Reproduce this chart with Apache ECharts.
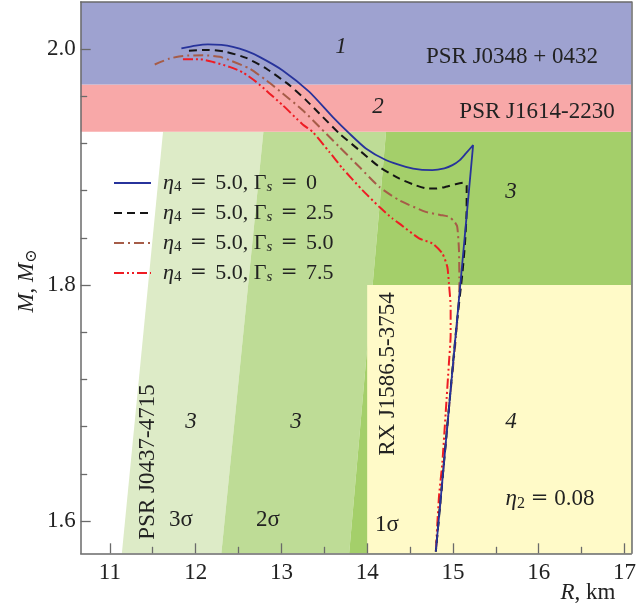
<!DOCTYPE html>
<html><head><meta charset="utf-8">
<script src="https://cdn.jsdelivr.net/npm/echarts@6/dist/echarts.min.js"></script>
<style>html,body{margin:0;padding:0;background:#fff}#c{width:639px;height:606px}</style>
</head><body><div id="c"></div>
<script>
// ---------- data ----------
const xMin = 10.66, xMax = 17.08, yMin = 1.5726, yMax = 2.04;
const xTickValues = [11, 12, 13, 14, 15, 16, 17];
const xMinorTickValues = [11.5, 12.5, 13.5, 14.5, 15.5, 16.5];
const yTickValues = [1.6, 1.8, 2.0];
const yMinorTickValues = [1.64, 1.68, 1.72, 1.76, 1.84, 1.88, 1.92, 1.96];

const eta4 = '5.0';
const gammaS = ['0', '2.5', '5.0', '7.5'];

const curveG0 = [[11.834,2.0006],[12.0,2.0030],[12.143,2.004],[12.30,2.0036],[12.434,2.002],[12.59,1.9985],[12.744,1.9935],[13.015,1.982],[13.326,1.9638],[13.597,1.9426],[13.791,1.9286],[13.985,1.9158],[14.217,1.906],[14.45,1.9003],[14.62,1.8978],[14.76,1.8975],[14.90,1.8990],[14.994,1.9017],[15.08,1.9060],[15.15,1.9116],[15.235,1.9186],[15.136,1.84],[15.037,1.762],[14.946,1.69],[14.871,1.63],[14.80,1.574]];
const curveG25 = [[11.922,1.9986],[12.143,1.9994],[12.357,1.9977],[12.59,1.9926],[12.822,1.9836],[13.093,1.9695],[13.287,1.9568],[13.442,1.9455],[13.674,1.9286],[13.907,1.9144],[14.14,1.9003],[14.372,1.8904],[14.55,1.8850],[14.683,1.882],[14.80,1.8818],[14.915,1.8833],[15.03,1.8855],[15.128,1.8868],[15.16,1.8845],[15.158,1.86],[15.14,1.835],[15.11,1.81],[15.037,1.762],[14.946,1.69],[14.871,1.63],[14.80,1.574]];
const curveG50 = [[11.523,1.987],[11.698,1.9921],[11.852,1.9943],[12.085,1.9949],[12.279,1.9935],[12.395,1.9907],[12.628,1.9836],[12.822,1.9737],[13.015,1.9625],[13.248,1.9483],[13.442,1.9342],[13.674,1.9172],[13.907,1.9003],[14.14,1.8833],[14.372,1.872],[14.683,1.8621],[14.85,1.8595],[14.953,1.8579],[15.02,1.8535],[15.05,1.8494],[15.07,1.8297],[15.075,1.7986],[15.06,1.7788],[15.037,1.757],[14.946,1.69],[14.871,1.63],[14.80,1.574]];
const curveG75 = [[11.852,1.9915],[12.047,1.9915],[12.201,1.9892],[12.395,1.985],[12.55,1.9803],[12.706,1.9723],[12.86,1.9625],[13.015,1.9525],[13.248,1.9362],[13.364,1.9299],[13.558,1.913],[13.713,1.8989],[13.945,1.8805],[14.14,1.8664],[14.294,1.8565],[14.372,1.8523],[14.605,1.8396],[14.76,1.8353],[14.876,1.8269],[14.934,1.8155],[14.953,1.8014],[14.973,1.7816],[14.973,1.7576],[14.953,1.7339],[14.915,1.6915],[14.876,1.6492],[14.837,1.6206],[14.80,1.574]];

// observational constraint regions
const bandJ0348 = [1.97, yMax];
const bandJ1614 = [1.93, 1.97];
const sigmaBandY = [yMin, 1.93];
const sigma3LeftX = [11.14, 11.62];
const sigma32X = [12.30, 12.79];
const sigma21X = [13.79, 14.22];
const rxRegionX = [14.0, xMax];
const rxRegionY = [yMin, 1.8];

// ---------- styles ----------
const SERIF = "'Liberation Serif', 'DejaVu Serif', serif";
const TXT = '#222';
const colLight = '#ddebc7', colMid = '#bedc96', colDark = '#a4cf6a', colYellow = '#fffac8', colPink = '#f8a8a8', colBlue = '#9ea2d0';

function rect(x, y) { return [[x[0], y[0]], [x[1], y[0]], [x[1], y[1]], [x[0], y[1]]]; }
const regions = [
  { pts: [[sigma3LeftX[0], sigmaBandY[0]], [sigma3LeftX[1], sigmaBandY[1]], [sigma32X[1], sigmaBandY[1]], [sigma32X[0], sigmaBandY[0]]], color: colLight },
  { pts: [[sigma32X[0], sigmaBandY[0]], [sigma32X[1], sigmaBandY[1]], [sigma21X[1], sigmaBandY[1]], [sigma21X[0], sigmaBandY[0]]], color: colMid },
  { pts: [[sigma21X[0], sigmaBandY[0]], [sigma21X[1], sigmaBandY[1]], [xMax, sigmaBandY[1]], [xMax, sigmaBandY[0]]], color: colDark },
  { pts: rect(rxRegionX, rxRegionY), color: colYellow },
  { pts: rect([xMin, xMax], bandJ1614), color: colPink },
  { pts: rect([xMin, xMax], bandJ0348), color: colBlue }
];

const curves = [curveG0, curveG25, curveG50, curveG75];
const curveStyles = [
  { color: '#27339b', width: 1.8, type: 'solid' },
  { color: '#151515', width: 2, type: [8, 5] },
  { color: '#a65c48', width: 2, type: [10, 4, 2, 4] },
  { color: '#ee1c24', width: 2, type: [10, 3, 2, 3, 2, 3] }
];
const names = gammaS.map(g => 'η4 = ' + eta4 + ', Γs = ' + g);

const rich = {
  i: { fontStyle: 'italic', fontFamily: SERIF, fontSize: 23, color: TXT },
  sub: { fontFamily: SERIF, fontSize: 16, color: TXT, padding: [10, 0, 0, 0] },
  isub: { fontFamily: SERIF, fontStyle: 'italic', fontSize: 16, color: TXT, padding: [10, 0, 0, 0] },
  eq: { fontFamily: "'DejaVu Serif', serif", fontSize: 21, color: TXT }
};
const legRich = {
  gap: { width: 7, lineHeight: 26 },
  i: { fontStyle: 'italic', fontFamily: SERIF, fontSize: 22, color: TXT, lineHeight: 26 },
  n: { fontFamily: SERIF, fontSize: 22, color: TXT, lineHeight: 26 },
  sub: { fontFamily: SERIF, fontSize: 15, color: TXT, padding: [9, 0, 0, 0], lineHeight: 26 },
  isub: { fontFamily: SERIF, fontStyle: 'italic', fontSize: 15, color: TXT, padding: [9, 0, 0, 0], lineHeight: 26 },
  eq: { fontFamily: "'DejaVu Serif', serif", fontSize: 20, color: TXT, lineHeight: 26, padding: [0, 3, 0, 3] }
};

const annotations = [
  { t: '{i|1}', x: 341, y: 47 },
  { t: 'PSR J0348 + 0432', x: 512, y: 57 },
  { t: '{i|2}', x: 378, y: 107 },
  { t: 'PSR J1614-2230', x: 537, y: 112 },
  { t: '{i|3}', x: 511, y: 192 },
  { t: '{i|3}', x: 191, y: 422 },
  { t: '{i|3}', x: 296, y: 422 },
  { t: '{i|4}', x: 511, y: 422 },
  { t: '{i|η}{sub|2} {eq|=} 0.08', x: 550, y: 499 },
  { t: '3σ', x: 181, y: 520 },
  { t: '2σ', x: 268, y: 520 },
  { t: '1σ', x: 387, y: 525 },
  { t: 'PSR J0437-4715', x: 148, y: 462, r: 90 },
  { t: 'RX J1586.5-3754', x: 388, y: 374, r: 90 },
  { t: '{i|R}, km', x: 588, y: 593 },
  { t: '{i|M}, {i|M}{sub|⊙}', x: 27, y: 281, r: 90 }
];

const chart = echarts.init(document.getElementById('c'), null, { renderer: 'canvas' });

const axisCommon = { type: 'value', splitLine: { show: false } };
const lineCol = '#6a6a6a';

const lineSeries = curves.map((c, i) => ({
  type: 'line', name: names[i], data: c, xAxisIndex: 0, yAxisIndex: 0,
  symbol: 'none', z: 8 - i, silent: true, smooth: 0.2,
  lineStyle: curveStyles[i], itemStyle: { color: curveStyles[i].color }
}));

const option = {
  animation: false,
  backgroundColor: '#fff',
  grid: { left: 80.7, right: 6.3, top: 2, bottom: 52.7, containLabel: false },
  xAxis: [
    Object.assign({}, axisCommon, {
      min: xMin, max: xMax, position: 'bottom', z: 10,
      axisLine: { show: true, onZero: false, lineStyle: { color: lineCol, width: 1.5 } },
      axisTick: { show: true, inside: true, length: 10, customValues: xTickValues, lineStyle: { color: lineCol, width: 1.3 } },
      axisLabel: { show: true, customValues: xTickValues, fontSize: 23, fontFamily: SERIF, color: TXT, margin: 8 }
    }),
    Object.assign({}, axisCommon, {
      min: xMin, max: xMax, position: 'bottom', z: 10,
      axisLine: { show: false, onZero: false },
      axisTick: { show: true, inside: true, length: 6.5, customValues: xMinorTickValues, lineStyle: { color: lineCol, width: 1.3 } },
      axisLabel: { show: false }
    }),
    Object.assign({}, axisCommon, {
      min: xMin, max: xMax, position: 'top', z: 10,
      axisLine: { show: true, onZero: false, lineStyle: { color: lineCol, width: 1.5 } },
      axisTick: { show: false }, axisLabel: { show: false }
    })
  ],
  yAxis: [
    Object.assign({}, axisCommon, {
      min: yMin, max: yMax, position: 'left', z: 10,
      axisLine: { show: true, onZero: false, lineStyle: { color: lineCol, width: 1.5 } },
      axisTick: { show: true, inside: true, length: 10, customValues: yTickValues, lineStyle: { color: lineCol, width: 1.3 } },
      axisLabel: { show: true, customValues: yTickValues, fontSize: 23, fontFamily: SERIF, color: TXT, margin: 5, formatter: v => v.toFixed(1) }
    }),
    Object.assign({}, axisCommon, {
      min: yMin, max: yMax, position: 'left', z: 10,
      axisLine: { show: false, onZero: false },
      axisTick: { show: true, inside: true, length: 6.5, customValues: yMinorTickValues, lineStyle: { color: lineCol, width: 1.3 } },
      axisLabel: { show: false }
    }),
    Object.assign({}, axisCommon, {
      min: yMin, max: yMax, position: 'right', z: 10,
      axisLine: { show: true, onZero: false, lineStyle: { color: lineCol, width: 1.5 } },
      axisTick: { show: false }, axisLabel: { show: false }
    })
  ],
  legend: {
    orient: 'vertical', left: 113, top: 170, padding: 0,
    itemWidth: 37, itemHeight: 2, itemGap: 4,
    selectedMode: false,
    itemStyle: { opacity: 0, borderWidth: 0 },
    data: names,
    formatter: function (name) {
      const g = gammaS[names.indexOf(name)];
      return '{gap|}{i|η}{sub|4} {eq|=} {n|' + eta4 + ',} {n|Γ}{isub|s} {eq|=} {n|' + g + '}';
    },
    textStyle: { fontFamily: SERIF, fontSize: 22, color: TXT, lineHeight: 26, rich: legRich }
  },
  series: [
    {
      type: 'custom', name: 'regions', silent: true, z: 1,
      xAxisIndex: 0, yAxisIndex: 0,
      data: regions.map((r, i) => [i]),
      renderItem: function (params, api) {
        const r = regions[params.dataIndex];
        return { type: 'polygon', shape: { points: r.pts.map(p => api.coord(p)) }, style: { fill: r.color, stroke: null } };
      }
    }
  ].concat(lineSeries),
  graphic: annotations.map(a => ({
    type: 'text', x: a.x, y: a.y, rotation: a.r ? a.r * Math.PI / 180 : 0, z: 100, silent: true,
    style: { text: a.t, fontFamily: SERIF, fontSize: 23, fill: TXT, align: 'center', verticalAlign: 'middle', rich: rich }
  }))
};
chart.setOption(option);
</script>
</body></html>
